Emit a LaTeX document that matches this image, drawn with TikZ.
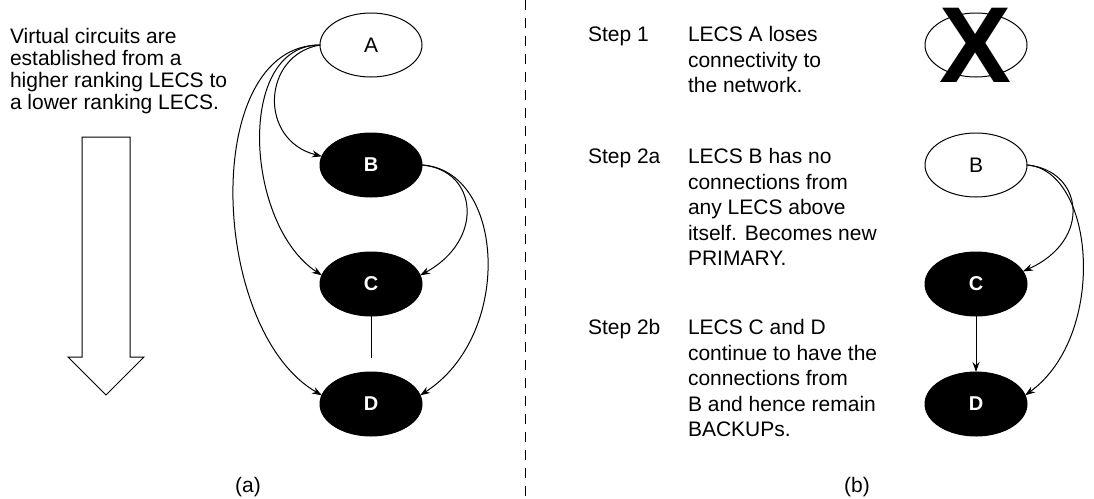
\documentclass[tikz,border=0pt]{standalone}
\usepackage{fontspec}
\setmainfont{Liberation Sans}
\usetikzlibrary{shapes.geometric,arrows.meta}
\begin{document}
\begin{tikzpicture}[x=1pt,y=-1pt,
  every node/.style={inner sep=0pt, outer sep=0pt},
  wnode/.style={ellipse, draw, line width=1pt, fill=white, minimum width=102pt, minimum height=64pt, font=\fontsize{21}{21}\selectfont},
  bnode/.style={ellipse, draw, line width=1pt, fill=black, text=white, minimum width=102pt, minimum height=64pt, font=\fontsize{20}{20}\selectfont\bfseries},
  conn/.style={line width=1pt, -{Stealth[length=10pt,width=7pt]}},
  lineplain/.style={line width=1pt},
  txt/.style={anchor=north west, align=left, font=\fontsize{21}{25.5}\selectfont},
  ltxt/.style={anchor=north west, align=left, font=\fontsize{21}{21.7}\selectfont},
  sublabel/.style={font=\fontsize{21}{21}\selectfont},
  bigx/.style={font=\fontsize{108}{108}\selectfont\bfseries},
]
\useasboundingbox (0,0) rectangle (1094,498);

% ---------- panel (a) ----------
\node[ltxt] (intro) at (10,28.7) {Virtual circuits are\\established from a\\higher ranking LECS to\\a lower ranking LECS.};
\draw[lineplain] (82,137) -- (130,137) -- (130,357) -- (144,357) -- (106,395) -- (68,357) -- (82,357) -- cycle;

\node[wnode] (A) at (371,45) {A};
\node[bnode] (B) at (371,165) {B};
\node[bnode] (C) at (371,284) {C};
\node[bnode] (D) at (371,404) {D};
\coordinate (cd) at (371,358);

\draw[conn] (A.west) .. controls (262,55) and (258,140) .. (B.170);
\draw[conn] (A.west) .. controls (235,45) and (245,225) .. (C.170);
\draw[conn] (A.west) .. controls (200,45) and (209,330) .. (D.170);
\draw[conn] (B.east) .. controls (478,170) and (485,240) .. (C.10);
\draw[conn] (B.east) .. controls (505,170) and (514,335) .. (D.10);
\draw[lineplain] (C.south) -- (cd);

\node[sublabel] (la) at (248,487) {(a)};

% ---------- divider ----------
\draw[line width=1pt, dash pattern=on 10pt off 8pt] (525,0) -- (525,498);

% ---------- panel (b) ----------
\node[txt] (s1) at (588,26.7) {Step 1};
\node[txt] (t1) at (688,26.7) {LECS A loses\\connectivity to\\the network.};
\node[txt] (s2a) at (588,148.7) {Step 2a};
\node[txt] (t2a) at (688,148.7) {LECS B has no\\connections from\\any LECS above\\itself. Becomes new\\PRIMARY.};
\node[txt] (s2b) at (588,319.7) {Step 2b};
\node[txt] (t2b) at (688,319.7) {LECS C and D\\continue to have the\\connections from\\B and hence remain\\BACKUPs.};

\node[wnode] (Ax) at (976,45) {};
\node[bigx] (X) at (976,45) {X};
\node[wnode] (B2) at (976,165) {B};
\node[bnode] (C2) at (976,284) {C};
\node[bnode] (D2) at (976,404) {D};

\draw[conn] (B2.east) .. controls (1083,170) and (1093,240) .. (C2.15);
\draw[conn] (B2.east) .. controls (1095,170) and (1108,335) .. (D2.10);
\draw[conn] (C2.south) -- (D2.north);

\node[sublabel] (lb) at (857,487) {(b)};
\end{tikzpicture}
\end{document}
